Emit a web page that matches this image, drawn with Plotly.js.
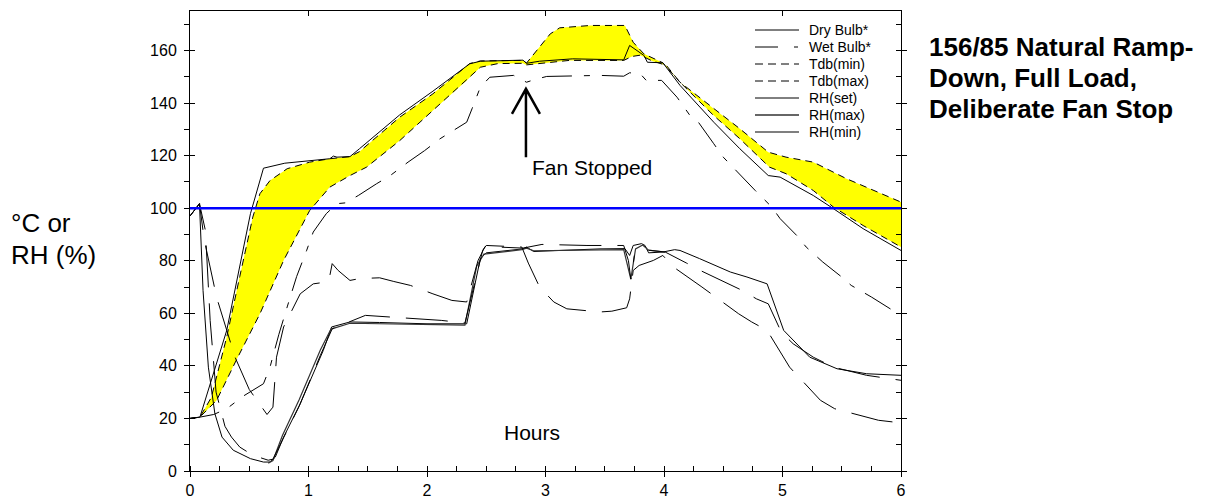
<!DOCTYPE html>
<html>
<head>
<meta charset="utf-8">
<script src="https://cdn.plot.ly/plotly-3.0.1.min.js"></script>
<style>html,body{margin:0;padding:0;background:#fff;}#chart{width:1215px;height:498px;}</style>
</head>
<body>
<div id="chart"></div>
<script>
// ---------- data (hours vs value) ----------
const dryX = [0,0.084,0.31,0.51,0.62,0.80,1.18,1.21,1.24,1.35,1.43,1.77,2.05,2.36,2.45,2.81,2.84,2.95,3.23,3.66,3.71,3.83,3.86,3.99,4.135,4.42,4.64,4.88,4.98,5.26,5.43,5.68,6.0];
const dryY = [20,20.5,53.5,97.9,115.2,117.1,118.8,119.8,119.4,119.6,122.6,135.5,144.5,154.9,155.9,156.3,155.1,155.9,156.8,156.4,161.9,158.1,155.5,155.3,146.7,132.7,122.6,112.4,111.8,104.8,99.8,92.2,83.9];

const wetX = [0,0.084,0.2,0.31,0.45,0.62,0.675,0.75,0.82,0.9,0.985,1.04,1.15,1.24,1.31,1.42,1.575,1.69,1.84,1.98,2.11,2.28,2.335,2.38,2.45,2.53,2.73,2.84,2.9,3.01,3.46,3.66,3.71,3.80,3.85,3.98,4.11,4.22,4.29,4.42,4.5,4.77,4.91,4.98,5.12,5.2,5.34,5.5,5.58,5.75,5.92,6.0];
const wetY = [20,20.5,21.5,23.7,28.5,33.2,39.5,52,62.4,74,84,90.9,97.9,101.7,102,104.8,109.3,112.4,117.5,121.9,126.4,131.4,132.7,137.8,146,149.8,150.5,147.9,148.8,150.1,150.5,150.2,151.5,151.1,148.6,148.6,142.2,135.2,132.7,124.5,119.4,106.7,100.4,96,89.6,85.2,79.5,73.8,70.6,66.2,61.4,59.8];

const tminX = [0,0.084,0.225,0.39,0.59,0.79,1.01,1.18,1.35,1.49,1.77,2.05,2.335,2.45,2.6,2.81,2.84,3.2,3.66,3.73,3.80,3.9,4.02,4.135,4.42,4.64,4.89,5.03,5.26,5.43,5.68,6.0];
const tminY = [20,20.5,26.9,42.1,59.8,80.1,99.1,108,112.4,115.6,125.7,137.1,148.6,153.6,155,155.1,154.5,156.2,156.2,157.7,158.2,156,154.3,147.9,135.2,126.4,115.6,113.1,106.7,100.4,93.4,85.2];

const tmaxX = [0,0.084,0.18,0.31,0.42,0.53,0.59,0.675,0.82,1.01,1.18,1.35,1.43,1.77,2.05,2.36,2.45,2.81,2.84,3.04,3.12,3.38,3.67,3.74,3.83,3.99,4.135,4.42,4.64,4.88,5.03,5.26,5.54,6.0];
const tmaxY = [20,20.5,28,51,74,96.6,105.5,110.5,115,117.5,118.8,119.6,121.5,134.6,143.5,155,156,156.2,155.2,166.3,168.6,169.5,169.5,163.1,158.7,155.3,147.9,137.8,130.2,121.3,119.4,117.5,111.2,102.3];

const rhSetX = [0,0.08,0.11,0.155,0.21,0.27,0.365,0.51,0.62,0.675,0.72,0.79,0.93,1.125,1.195,1.35,1.6,2.0,2.335,2.45,2.5,2.81,2.84,2.9,3.46,3.67,3.71,3.74,3.81,3.84,3.87,3.99,4.09,4.135,4.3,4.56,4.7,4.87,5.01,5.09,5.23,5.46,5.71,6.0];
const rhSetY = [97,101.7,68.7,39.5,21.8,12.9,7.9,4.7,3.4,3.4,5.3,12.9,25.6,45.9,54.8,56.7,56.5,56,56,80.8,83,84.5,85.2,83.5,84.5,84.6,82,85.8,86.5,85.8,83,83.3,84.2,83.9,80.8,75.7,73.8,71.2,53.5,49.7,43.3,38.9,37,36.4];

const rhMaxX = [0.66,0.7,0.78,0.92,1.1,1.19,1.35,1.6,2.0,2.32,2.42,2.48,2.8,2.84,2.9,3.4,3.66,3.72,3.76,3.82,3.87,4.01,4.19,4.32,4.66,4.78,4.88,4.99,5.09,5.26,5.43,5.71,6.0];
const rhMaxY = [3.0,4,13.5,27,46,54,56.2,56,55.7,55.5,78,82.5,84.2,84.8,83.8,84.2,84.2,73,84.5,86,84,83.3,79.1,76,68.7,65.5,63.6,52.8,48.4,43.3,39.5,36.4,34.5];

const rhMinX = [0,0.08,0.13,0.17,0.22,0.295,0.35,0.42,0.53,0.66,0.7,0.78,0.92,1.1,1.2,1.48,1.6,2.0,2.12,2.32,2.42,2.47,2.5,2.8,2.855,2.95,3.07,3.18,3.46,3.56,3.685,3.71,3.74,3.79,3.91,3.99,4.08,4.21,4.32,4.63,4.74,4.87,4.99,5.06,5.32,5.44,5.81,6.0];
const rhMinY = [97,101.7,91.5,57.3,30,17,12.9,9.1,6,4.1,4.5,12,24.5,44,54.1,59.2,58.8,57.5,57.3,56.3,74,84,85.8,85.2,79.1,70,64.3,61.7,60.5,60.8,62.1,65.5,76.3,78.2,80.1,82,77.6,73.5,70,59.8,56.7,53.5,44.6,39.5,26.9,23.7,19.3,18.3];

const rhHiX = [0,0.08,0.12,0.225,0.38,0.5,0.65,0.70,0.73,0.79,0.93,1.04,1.17,1.2,1.25,1.35,1.43,1.6,1.72,1.86,2.05,2.21,2.335,2.43,2.49,2.81,2.97,3.35,3.66,3.7,3.72,3.75];
const rhHiY = [97,101.7,88,66,43.3,31,21.5,24.3,43.3,54.8,67.4,71.2,72,78.9,76.3,72.5,73.2,73.5,72.1,70.6,67.4,64.9,64.3,80,85.4,84.8,86.2,85.8,85.8,80,73,82];

const legendNames = ["Dry Bulb*","Wet Bulb*","Tdb(min)","Tdb(max)","RH(set)","RH(max)","RH(min)"];
const xTicks = [0,1,2,3,4,5,6];
const yTicks = [0,20,40,60,80,100,120,140,160];
const limitRH = 100;

// ---------- styling ----------
const FONT = "Liberation Sans, Arial, sans-serif";
const L = 190, R = 314, T = 11, B = 27, W = 1215, H = 498;
const PW = W - L - R, PH = H - T - B;
const px2x = p => (p - L) / PW;
const py2y = p => (H - B - p) / PH;

const WETDASH = "30px,12px,6px,12px";
const LONGDASH = "42px,16px";
const TDASH = "7px,5px";
const SPLIT = 3.9; // rhMax drawn solid before, long-dashed after

const seg = (xs, ys, f) => {
  const ox = [], oy = [];
  xs.forEach((v, i) => { if (f(v)) { ox.push(v); oy.push(ys[i]); } });
  return {x: ox, y: oy};
};
const rhMaxA = seg(rhMaxX, rhMaxY, v => v <= 4.01);
const rhMaxB = seg(rhMaxX, rhMaxY, v => v >= 3.87);

const traces = [
  {x: tmaxX.concat(tminX.slice().reverse()), y: tmaxY.concat(tminY.slice().reverse()),
   mode: "none", fill: "toself", fillcolor: "#ffff00", hoverinfo: "skip", showlegend: false},
  {x: tmaxX, y: tmaxY, mode: "lines", line: {color: "#000", width: 1, dash: TDASH}, showlegend: false},
  {x: tminX, y: tminY, mode: "lines", line: {color: "#000", width: 1, dash: TDASH}, showlegend: false},
  {x: dryX, y: dryY, mode: "lines", line: {color: "#000", width: 1}, showlegend: false},
  {x: wetX, y: wetY, mode: "lines", line: {color: "#000", width: 1, dash: WETDASH}, showlegend: false},
  {x: rhSetX, y: rhSetY, mode: "lines", line: {color: "#000", width: 1}, showlegend: false},
  {x: rhMaxA.x, y: rhMaxA.y, mode: "lines", line: {color: "#333", width: 1.2}, showlegend: false},
  {x: rhMaxB.x, y: rhMaxB.y, mode: "lines", line: {color: "#000", width: 1, dash: LONGDASH}, showlegend: false},
  {x: rhMinX, y: rhMinY, mode: "lines", line: {color: "#000", width: 1, dash: LONGDASH}, showlegend: false},
  {x: rhHiX, y: rhHiY, mode: "lines", line: {color: "#000", width: 1, dash: LONGDASH}, showlegend: false},
  // invisible helper traces so overlay axes are drawn
  {x: xTicks, y: xTicks.map(() => null), xaxis: "x2", yaxis: "y2", mode: "lines", showlegend: false, hoverinfo: "skip"},
  {x: xTicks, y: xTicks.map(() => null), xaxis: "x3", yaxis: "y3", mode: "lines", showlegend: false, hoverinfo: "skip"},
  {x: xTicks, y: xTicks.map(() => null), xaxis: "x", yaxis: "y4", mode: "lines", showlegend: false, hoverinfo: "skip"}
];

const legendStyles = [
  {color: "#000", width: 1, dash: "solid"},
  {color: "#000", width: 1, dash: "23px,16px,4px,8px"},
  {color: "#000", width: 1, dash: "8px,5px"},
  {color: "#000", width: 1, dash: "8px,5px"},
  {color: "#000", width: 1, dash: "solid"},
  {color: "#666", width: 2, dash: "solid"},
  {color: "#000", width: 1.2, dash: "solid"}
];

const shapes = [
  {type: "line", xref: "paper", x0: 0, x1: 1, yref: "y", y0: limitRH, y1: limitRH,
   line: {color: "#0000ff", width: 2.5}, layer: "above"}
];
const annotations = [];
legendNames.forEach((n, i) => {
  const py = 30 + 17 * i;
  shapes.push({type: "line", xref: "paper", yref: "paper", x0: px2x(755), x1: px2x(799),
    y0: py2y(py), y1: py2y(py), line: legendStyles[i]});
  annotations.push({xref: "paper", yref: "paper", x: px2x(807), y: py2y(py), text: n,
    showarrow: false, xanchor: "left", yanchor: "middle", font: {family: FONT, size: 14, color: "#000"}});
});

// Fan stop arrow (open V head)
const ax = 2.835, tipY = 145.4, tailY = 119.4, hx = 0.118, hy = 9.5;
shapes.push({type: "path", xref: "x", yref: "y",
  path: `M${ax},${tailY} L${ax},${tipY} M${ax-hx},${tipY-hy} L${ax},${tipY} L${ax+hx},${tipY-hy}`,
  line: {color: "#000", width: 2.5}});

annotations.push(
  {xref: "x", yref: "y", x: 2.87, y: 115.5, text: "Fan Stopped", showarrow: false, xanchor: "left", yanchor: "middle",
   font: {family: FONT, size: 21, color: "#000"}},
  {xref: "x", yref: "y", x: 2.89, y: 14.7, text: "Hours", showarrow: false, xanchor: "center", yanchor: "middle",
   font: {family: FONT, size: 21, color: "#000"}},
  {xref: "paper", yref: "paper", x: px2x(9), y: py2y(223), text: "°C or", showarrow: false, xanchor: "left", yanchor: "middle",
   font: {family: FONT, size: 26, color: "#000"}},
  {xref: "paper", yref: "paper", x: px2x(9), y: py2y(255), text: "RH (%)", showarrow: false, xanchor: "left", yanchor: "middle",
   font: {family: FONT, size: 26, color: "#000"}},
  {xref: "paper", yref: "paper", x: px2x(927), y: py2y(47), text: "<b>156/85 Natural Ramp-</b>", showarrow: false, xanchor: "left", yanchor: "middle",
   font: {family: FONT, size: 26, color: "#000"}},
  {xref: "paper", yref: "paper", x: px2x(927), y: py2y(78), text: "<b>Down, Full Load,</b>", showarrow: false, xanchor: "left", yanchor: "middle",
   font: {family: FONT, size: 26, color: "#000"}},
  {xref: "paper", yref: "paper", x: px2x(927), y: py2y(109), text: "<b>Deliberate Fan Stop</b>", showarrow: false, xanchor: "left", yanchor: "middle",
   font: {family: FONT, size: 26, color: "#000"}}
);

const axBase = {showgrid: false, zeroline: false, linecolor: "#000", linewidth: 1, tickcolor: "#000", tickwidth: 1, ticklen: 5, fixedrange: true};
const layout = {
  width: W, height: H,
  margin: {l: L, r: R, t: T, b: B, pad: 0},
  paper_bgcolor: "#fff", plot_bgcolor: "#fff",
  showlegend: false,
  font: {family: FONT, size: 16, color: "#000"},
  xaxis: Object.assign({}, axBase, {range: [0, 6], tickvals: xTicks, ticks: "outside", showline: true,
    minor: {ticks: "inside", dtick: 0.25, ticklen: 5, tickcolor: "#000", tickwidth: 1},
    tickfont: {family: FONT, size: 16, color: "#000"}}),
  yaxis: Object.assign({}, axBase, {range: [0, 175], tickvals: yTicks, ticks: "outside", showline: true,
    minor: {ticks: "outside", dtick: 10, ticklen: 5, tickcolor: "#000", tickwidth: 1},
    tickfont: {family: FONT, size: 16, color: "#000"}, ticklabelstandoff: 4}),
  xaxis2: Object.assign({}, axBase, {range: [0, 6], overlaying: "x", side: "top", anchor: "y2", tickvals: xTicks,
    ticks: "inside", showline: true, showticklabels: false}),
  yaxis2: Object.assign({}, axBase, {range: [0, 175], overlaying: "y", side: "right", anchor: "x2", dtick: 10, tick0: 0,
    ticks: "inside", showline: true, showticklabels: false}),
  xaxis3: Object.assign({}, axBase, {range: [0, 6], overlaying: "x", side: "bottom", anchor: "y3", tickvals: xTicks,
    ticks: "inside", showline: false, showticklabels: false}),
  yaxis3: Object.assign({}, axBase, {range: [0, 175], overlaying: "y", side: "right", anchor: "x3", tickvals: yTicks,
    ticks: "outside", showline: false, showticklabels: false}),
  yaxis4: Object.assign({}, axBase, {range: [0, 175], overlaying: "y", side: "left", anchor: "x", tickvals: yTicks,
    ticks: "inside", showline: false, showticklabels: false}),
  shapes: shapes,
  annotations: annotations
};

Plotly.newPlot("chart", traces, layout, {staticPlot: true, displayModeBar: false});
</script>
</body>
</html>
